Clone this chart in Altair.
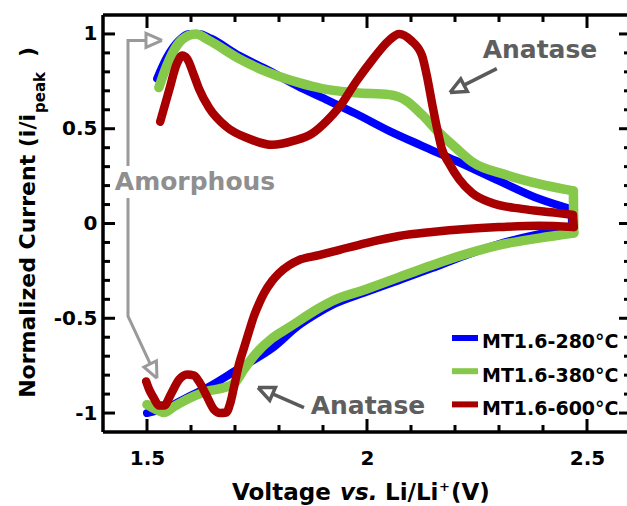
import altair as alt
import pandas as pd

# ---------------- data ----------------
SERIES = ["MT1.6-280°C", "MT1.6-380°C", "MT1.6-600°C"]
COLORS = ["#0000ff", "#86c84a", "#a80000"]
WIDTHS = [8, 9.5, 8.5]

# anodic sweep (1.5 V -> 2.47 V) and cathodic sweep (2.47 V -> 1.5 V)
V_280_AN = [1.523, 1.545, 1.573, 1.595, 1.618, 1.645, 1.709, 1.777, 1.845, 1.898, 1.975,
            2.05, 2.125, 2.202, 2.30, 2.391, 2.465]
I_280_AN = [0.765, 0.876, 0.966, 1.0, 1.0, 0.976, 0.886, 0.807, 0.722, 0.664, 0.579,
            0.489, 0.410, 0.331, 0.225, 0.130, 0.075]
V_280_CA = [2.466, 2.391, 2.30, 2.225, 2.148, 2.073, 1.998, 1.920, 1.891, 1.845, 1.784,
            1.709, 1.634, 1.595, 1.55, 1.50]
I_280_CA = [-0.019, -0.056, -0.108, -0.167, -0.235, -0.299, -0.362, -0.431, -0.468, -0.537,
            -0.659, -0.765, -0.870, -0.913, -0.966, -1.0]

V_380_AN = [1.527, 1.545, 1.568, 1.595, 1.611, 1.641, 1.709, 1.777, 1.845, 1.898, 1.975,
            2.05, 2.089, 2.125, 2.164, 2.202, 2.239, 2.316, 2.391, 2.469]
I_380_AN = [0.717, 0.833, 0.939, 0.992, 1.0, 0.966, 0.870, 0.796, 0.743, 0.712, 0.690,
            0.680, 0.648, 0.574, 0.479, 0.399, 0.325, 0.257, 0.209, 0.172]
V_380_CA = [2.470, 2.391, 2.30, 2.225, 2.148, 2.073, 1.998, 1.920, 1.891, 1.823, 1.784,
            1.748, 1.720, 1.698, 1.668, 1.634, 1.595, 1.561, 1.539, 1.520, 1.50]
I_380_CA = [-0.050, -0.077, -0.114, -0.161, -0.220, -0.283, -0.347, -0.410, -0.447, -0.548,
            -0.606, -0.685, -0.770, -0.844, -0.870, -0.886, -0.923, -0.966, -0.997, -0.981,
            -0.955]

V_600_AN = [1.530, 1.550, 1.568, 1.580, 1.591, 1.607, 1.618, 1.641, 1.680, 1.732, 1.784,
            1.834, 1.875, 1.909, 1.936, 1.977, 2.011, 2.05, 2.073, 2.10, 2.125, 2.136,
            2.148, 2.159, 2.170, 2.186, 2.209, 2.239, 2.284, 2.352, 2.430, 2.468]
I_600_AN = [0.537, 0.701, 0.844, 0.886, 0.870, 0.780, 0.712, 0.611, 0.511, 0.447, 0.415,
            0.437, 0.474, 0.542, 0.611, 0.754, 0.860, 0.966, 1.0, 0.966, 0.886, 0.780,
            0.632, 0.505, 0.394, 0.320, 0.235, 0.161, 0.108, 0.077, 0.056, 0.045]
V_600_CA = [2.470, 2.391, 2.30, 2.225, 2.148, 2.073, 1.998, 1.936, 1.891, 1.845, 1.823,
            1.80, 1.784, 1.766, 1.755, 1.743, 1.732, 1.720, 1.709, 1.698, 1.689, 1.680,
            1.666, 1.652, 1.634, 1.618, 1.607, 1.591, 1.573, 1.555, 1.539, 1.527, 1.516,
            1.505, 1.498]
I_600_CA = [-0.019, -0.012, -0.019, -0.029, -0.045, -0.066, -0.103, -0.140, -0.167, -0.193,
            -0.220, -0.262, -0.304, -0.368, -0.421, -0.489, -0.569, -0.659, -0.743, -0.860,
            -0.950, -0.997, -1.0, -0.981, -0.902, -0.833, -0.802, -0.796, -0.823, -0.897,
            -0.960, -0.960, -0.923, -0.876, -0.833]

X_MAJOR = [1.5, 2.0, 2.5]
X_MINOR = [1.6, 1.7, 1.8, 1.9, 2.1, 2.2, 2.3, 2.4]
Y_MAJOR = [-1.0, -0.5, 0.0, 0.5, 1.0]
Y_MINOR = [-0.9, -0.8, -0.7, -0.6, -0.4, -0.3, -0.2, -0.1,
           0.1, 0.2, 0.3, 0.4, 0.6, 0.7, 0.8, 0.9]

# annotation polylines (V, I)
AMORPH_PATHS = [
    [(1.4977, 0.966), (1.4568, 0.966), (1.4568, 0.304)],
    [(1.4568, 0.135), (1.4568, -0.489), (1.5073, -0.741)],
    [(1.5341, 0.966), (1.4977, 1.003), (1.4977, 0.929), (1.5341, 0.966)],
    [(1.5227, -0.817), (1.5214, -0.725), (1.4930, -0.757), (1.5227, -0.817)],
]
ANATASE_PATHS = [
    [(2.295, 0.817), (2.2205, 0.730)],
    [(2.1886, 0.691), (2.228, 0.697), (2.213, 0.763), (2.1886, 0.691)],
    [(1.8568, -0.971), (1.7855, -0.899)],
    [(1.7523, -0.865), (1.7918, -0.865), (1.779, -0.933), (1.7523, -0.865)],
]

# ---------------- layout ----------------
FONT = "DejaVu Sans"
W, H = 524, 417
PX_PER_V = 440
xs = alt.Scale(domain=[1.4, 1.4 + W / PX_PER_V], nice=False, zero=False)
ys = alt.Scale(domain=[-1.1, 1.1], nice=False, zero=False)

xaxis = alt.Axis(values=X_MAJOR, labelExpr="toString(datum.value)", title=None,
                 ticks=False, tickSize=0, domain=False, grid=False, labelPadding=16,
                 labelFontSize=20, labelFont=FONT, labelFontWeight="bold",
                 labelColor="black", labelOverlap=False, labelFlush=False)
yaxis = alt.Axis(values=Y_MAJOR, labelExpr="toString(datum.value)", title=None,
                 ticks=False, tickSize=0, domain=False, grid=False, labelPadding=6,
                 labelFontSize=20, labelFont=FONT, labelFontWeight="bold",
                 labelColor="black", labelOverlap=False, labelFlush=False)


def X(field):
    return alt.X(f"{field}:Q", scale=xs, axis=xaxis)


def Y(field):
    return alt.Y(f"{field}:Q", scale=ys, axis=yaxis)


layers = []

# curves: each sweep drawn as a smooth branch, joined by the vertical turnaround
branches = [
    (V_280_AN, I_280_AN, V_280_CA, I_280_CA),
    (V_380_AN, I_380_AN, V_380_CA, I_380_CA),
    (V_600_AN, I_600_AN, V_600_CA, I_600_CA),
]
for (va, ia, vc, ic), c, w in zip(branches, COLORS, WIDTHS):
    for v, i in ((va, ia), (vc, ic)):
        df = pd.DataFrame({"V": v, "I": i})
        layers.append(
            alt.Chart(df).mark_line(color=c, strokeWidth=w, interpolate="monotone",
                                    strokeCap="round", strokeJoin="round")
            .encode(x=X("V"), y=Y("I"), order=alt.Order("V:Q"))
        )
    turn = pd.DataFrame({"V": [va[-1], vc[0]], "I": [ia[-1], ic[0]], "k": [0, 1]})
    layers.append(
        alt.Chart(turn).mark_line(color=c, strokeWidth=w, strokeCap="round")
        .encode(x=X("V"), y=Y("I"), order="k:Q")
    )


# annotation arrows
def path_layers(paths, color, width):
    out = []
    for p in paths:
        df = pd.DataFrame({"V": [q[0] for q in p], "I": [q[1] for q in p],
                           "k": list(range(len(p)))})
        out.append(alt.Chart(df).mark_line(color=color, strokeWidth=width,
                                           strokeJoin="miter", strokeCap="butt")
                   .encode(x=X("V"), y=Y("I"), order="k:Q"))
    return out


layers += path_layers(AMORPH_PATHS, "#9a9a9a", 3)
layers += path_layers(ANATASE_PATHS, "#5a5a5a", 3.5)

# frame (top, left, bottom; right edge is cut off as in the reference)
one = pd.DataFrame({"a": [0]})
layers += [
    alt.Chart(one).mark_rule(color="black", strokeWidth=3.5).encode(
        x=alt.value(0), x2=alt.value(W), y=alt.value(0)),
    alt.Chart(one).mark_rule(color="black", strokeWidth=3.5).encode(
        x=alt.value(0), x2=alt.value(W), y=alt.value(H)),
    alt.Chart(one).mark_rule(color="black", strokeWidth=3.5).encode(
        x=alt.value(0), y=alt.value(0), y2=alt.value(H)),
]


# inward ticks
def xticks(vals, length):
    df = pd.DataFrame({"t": vals})
    return [
        alt.Chart(df).mark_rule(color="black", strokeWidth=3).encode(
            x=X("t"), y=alt.value(H), y2=alt.value(H - length)),
        alt.Chart(df).mark_rule(color="black", strokeWidth=3).encode(
            x=X("t"), y=alt.value(0), y2=alt.value(length)),
    ]


def yticks(vals, length, right_len):
    df = pd.DataFrame({"t": vals})
    return [
        alt.Chart(df).mark_rule(color="black", strokeWidth=3).encode(
            y=Y("t"), x=alt.value(0), x2=alt.value(length)),
        alt.Chart(df).mark_rule(color="black", strokeWidth=3).encode(
            y=Y("t"), x=alt.value(W), x2=alt.value(W - right_len)),
    ]


layers += xticks(X_MAJOR, 13) + xticks(X_MINOR, 7)
layers += yticks(Y_MAJOR, 12, 8) + yticks(Y_MINOR, 7, 3)


# text helper
def txt(label, x, y, size, color="black", align="left", baseline="alphabetic",
        angle=0, style="normal"):
    df = pd.DataFrame({"label": [label]})
    return alt.Chart(df).mark_text(
        font=FONT, fontWeight="bold", fontSize=size, color=color, align=align,
        baseline=baseline, angle=angle, fontStyle=style
    ).encode(x=alt.value(x), y=alt.value(y), text="label:N")


# annotations text
layers.append(txt("Amorphous", 92, 167, 25, "#8f8f8f", "center", "middle"))
layers.append(txt("Anatase", 437, 35, 25, "#5e5e5e", "center", "middle"))
layers.append(txt("Anatase", 265, 391, 25, "#5e5e5e", "center", "middle"))

# legend
for idx, (name, c) in enumerate(zip(SERIES, COLORS)):
    df = pd.DataFrame({"label": [name]})
    layers.append(alt.Chart(df).mark_rule(color=c, strokeWidth=6).encode(
        x=alt.value(349), x2=alt.value(375), y=alt.value(323 + 33.2 * idx)))
    layers.append(txt(name, 379, 333 + 33.5 * idx, 19))

# x axis title: "Voltage vs. Li/Li+(V)"
layers.append(txt("Voltage", 129, 485, 23))
layers.append(txt("vs.", 237, 485, 23, style="italic"))
layers.append(txt("Li/Li", 282, 485, 23))
layers.append(txt("+", 336, 476, 13))
layers.append(txt("(V)", 348, 485, 23))

# y axis title: "Normalized Current (i/i_peak)"
layers.append(txt("Normalized Current (i/i", -68, 99, 22, align="right", angle=270))
layers.append(txt("peak", -58, 98, 15, align="left", angle=270))
layers.append(txt(")", -68, 42, 22, align="left", angle=270))

chart = alt.layer(*layers).properties(
    width=W, height=H,
    autosize=alt.AutoSizeParams(type="none"),
    padding={"left": 103, "top": 15, "right": 0, "bottom": 74},
).configure_view(stroke=None).configure(background="white")

chart.save("out.html", embed_options={"renderer": "svg", "actions": False})
